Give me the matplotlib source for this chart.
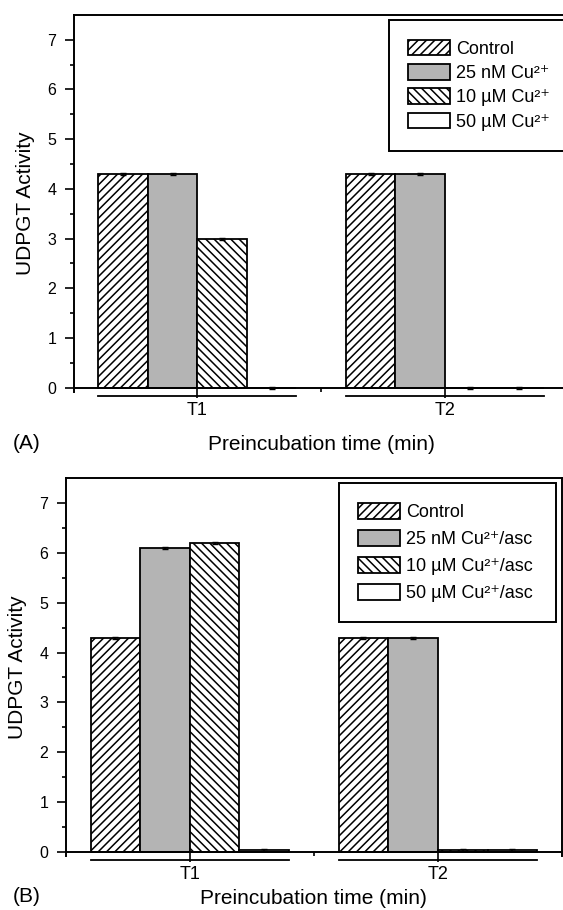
import numpy as np
import matplotlib
matplotlib.use('Agg')
import matplotlib.pyplot as plt

plt.rcParams['font.family'] = ['Liberation Sans', 'DejaVu Sans']
plt.rcParams['hatch.linewidth'] = 1.1

# data
groups = ['T1', 'T2']
labels_a = ['Control', '25 nM Cu\u00b2\u207a', '10 \u00b5M Cu\u00b2\u207a', '50 \u00b5M Cu\u00b2\u207a']
labels_b = ['Control', '25 nM Cu\u00b2\u207a/asc', '10 \u00b5M Cu\u00b2\u207a/asc', '50 \u00b5M Cu\u00b2\u207a/asc']
# rows = treatment, columns = T1, T2
vals_a = [[4.3, 4.3], [4.3, 4.3], [3.0, 0.0], [0.0, 0.0]]
vals_b = [[4.3, 4.3], [6.1, 4.3], [6.2, 0.03], [0.03, 0.03]]
err_a = [[0.02, 0.02], [0.02, 0.02], [0.02, 0.02], [0.02, 0.02]]
err_b = [[0.02, 0.02], [0.02, 0.02], [0.02, 0.02], [0.02, 0.02]]

faces = ['white', '#b4b4b4', 'white', 'white']
hatches = ['////', '', '\\\\\\\\', '']

fig = plt.figure(figsize=(5.63, 9.10), dpi=100)
axA = fig.add_axes([0.1307, 0.5696, 0.8795, 0.414])
axB = fig.add_axes([0.1167, 0.0597, 0.8815, 0.4147])

pos = np.array([0, 5])
offs = [-1.5, -0.5, 0.5, 1.5]


def panel(ax, vals, errs, labels, leg_x, leg_top, lspace, tag, tag_y, xpad):
    hs = []
    for i in range(4):
        b = ax.bar(pos + offs[i], vals[i], width=1.0, color=faces[i],
                   edgecolor='black', linewidth=1.3, hatch=hatches[i],
                   label=labels[i], zorder=2)
        ax.errorbar(pos + offs[i], vals[i], yerr=errs[i], fmt='none',
                    ecolor='black', elinewidth=1.2, capsize=2.5, zorder=3)
        hs.append(b)
    ax.set_xlim(-2.5, 7.5)
    ax.set_ylim(-0.08, 7.5)
    ax.spines['bottom'].set_position(('data', 0))
    for s in ax.spines.values():
        s.set_linewidth(1.4)
    ax.set_yticks(range(0, 8))
    ax.set_yticks(np.arange(0.5, 7.5, 1.0), minor=True)
    ax.set_xticks(pos)
    ax.set_xticklabels(groups)
    ax.set_xticks([2.5], minor=True)
    ax.tick_params(axis='y', which='major', direction='out', length=6.5, width=1.2, labelsize=11.5, pad=6)
    ax.tick_params(axis='y', which='minor', direction='out', length=3, width=1.2)
    ax.tick_params(axis='x', which='major', direction='out', length=7.5, width=1.2, labelsize=13, pad=3)
    ax.tick_params(axis='x', which='minor', direction='out', length=3, width=1.2)
    # group underline
    for g in pos:
        ax.plot([g - 2, g + 2], [-0.16, -0.16], color='black', lw=1.3, clip_on=False)
    ax.set_ylabel('UDPGT Activity', fontsize=15, labelpad=9)
    ax.set_xlabel('Preincubation time (min)', fontsize=15, labelpad=xpad)
    leg = ax.legend(handles=hs, loc='upper left',
                    bbox_to_anchor=(leg_x, leg_top, 217 / 563, 0.0),
                    bbox_transform=fig.transFigure, mode='expand',
                    fontsize=13, frameon=True, fancybox=False,
                    edgecolor='black', handlelength=2.3, handleheight=0.95,
                    handletextpad=0.35, labelspacing=lspace, borderpad=1.1,
                    borderaxespad=0)
    leg.get_frame().set_linewidth(1.4)
    leg.get_frame().set_alpha(None)
    fig.text(27 / 563, tag_y, tag, fontsize=15, ha='center', va='center')


panel(axA, vals_a, err_a, labels_a, 388.5 / 563, 1 - 20 / 910, 0.35, '(A)', 1 - 443 / 910, 11)
panel(axB, vals_b, err_b, labels_b, 338.6 / 563, 1 - 483.3 / 910, 0.5, '(B)', 1 - 897 / 910, 4)

fig.savefig('out.png', dpi=100)
